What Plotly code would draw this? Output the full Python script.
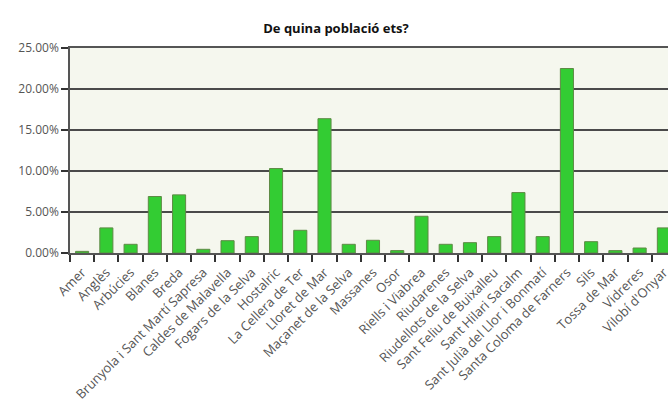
import plotly.graph_objects as go

categories = ["Amer", "Anglès", "Arbúcies", "Blanes", "Breda",
              "Brunyola i Sant Martí Sapresa", "Caldes de Malavella",
              "Fogars de la Selva", "Hostalric", "La Cellera de Ter",
              "Lloret de Mar", "Maçanet de la Selva", "Massanes", "Osor",
              "Riells i Viabrea", "Riudarenes", "Riudellots de la Selva",
              "Sant Feliu de Buixalleu", "Sant Hilari Sacalm",
              "Sant Julià del Llor i Bonmatí", "Santa Coloma de Farners",
              "Sils", "Tossa de Mar", "Vidreres", "Vilobí d'Onyar"]
values = [0.0020, 0.0306, 0.0106, 0.0689, 0.0709,
          0.0045, 0.0150, 0.0200, 0.1030, 0.0277,
          0.1638, 0.0106, 0.0155, 0.0029,
          0.0448, 0.0106, 0.0126,
          0.0200, 0.0737,
          0.0200, 0.2250,
          0.0138, 0.0029, 0.0061, 0.0306]
y_ticks = [0, 0.05, 0.10, 0.15, 0.20, 0.25]

fig = go.Figure(go.Bar(
    x=categories, y=values,
    marker=dict(color="#33CC33", line=dict(color="#5E8A45", width=1)),
    width=0.54,
))

fig.update_layout(
    width=672, height=410,
    margin=dict(l=70, r=0, t=48, b=157),
    paper_bgcolor="white", plot_bgcolor="#F5F7EE",
    title=dict(text="<b>De quina població ets?</b>", x=0.5, xanchor="center",
               y=1 - 28 / 410, yanchor="middle",
               font=dict(family="Open Sans", size=13, color="#111111")),
    showlegend=False,
    font=dict(family="Open Sans", color="#333333"),
)
fig.update_xaxes(
    type="category", range=[-0.5, 24.17],
    tickson="boundaries", ticks="outside", ticklen=7, tickwidth=1.5, tickcolor="#333333",
    tickangle=-45, tickfont=dict(size=13, color="#555555"), ticklabelstandoff=5,
    showline=True, linecolor="#555555", linewidth=1.5,
    mirror=True, showgrid=False,
)
fig.update_yaxes(
    range=[0, 0.25], tickvals=y_ticks, tickformat=".2%",
    ticks="outside", ticklen=7, tickwidth=1.5, tickcolor="#333333",
    tickfont=dict(size=12, color="#555555"),
    showline=True, linecolor="#555555", linewidth=1.5,
    showgrid=True, gridcolor="#4a4a4a", gridwidth=1.5,
    zeroline=False,
)

fig.write_html("out.html")
